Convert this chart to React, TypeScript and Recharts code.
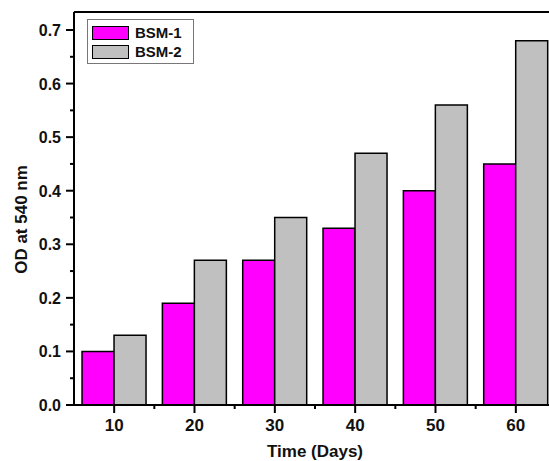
import { Bar, BarChart, Label, Legend, ReferenceLine, XAxis, YAxis } from "recharts";

// ── data ────────────────────────────────────────────────────────────────────

const days = ["10", "20", "30", "40", "50", "60"];
const bsm1 = [0.1, 0.19, 0.27, 0.33, 0.4, 0.45];
const bsm2 = [0.13, 0.27, 0.35, 0.47, 0.56, 0.68];
const yTicks = [0, 0.05, 0.1, 0.15, 0.2, 0.25, 0.3, 0.35, 0.4, 0.45, 0.5, 0.55, 0.6, 0.65, 0.7];
const Y_MAX = 0.7336;

const data = days.map((d, i) => ({ day: d, bsm1: bsm1[i], bsm2: bsm2[i] }));

const FONT = "'Liberation Sans', Arial, sans-serif";
const MAGENTA = "#ff00ff";
const GREY = "#c0c0c0";

// ── ticks ───────────────────────────────────────────────────────────────────

// tickSize 8 + tickMargin 4 → axis line sits 12px right of the tick x
function YTick({ x = 0, y = 0, payload }: any) {
  const ax = x + 12;
  const v = payload?.value ?? 0;
  const major = Math.abs(Math.round(v * 10) - v * 10) < 1e-6;
  return (
    <g>
      <line x1={ax - (major ? 8 : 4)} x2={ax} y1={y} y2={y} stroke="#000" strokeWidth={2} />
      {major && (
        <text x={ax - 13} y={y + 6} textAnchor="end" fontFamily={FONT} fontWeight="bold" fontSize={16} fill="#111">
          {v.toFixed(1)}
        </text>
      )}
    </g>
  );
}

// tickSize 8 + tickMargin 2 → axis line sits 10px above the tick y
function XTick({ x = 0, y = 0, payload }: any) {
  const ay = y - 10;
  const half = payload?.offset ?? 40;
  return (
    <g>
      <line x1={x} x2={x} y1={ay} y2={ay + 8} stroke="#000" strokeWidth={2} />
      <line x1={x + half} x2={x + half} y1={ay} y2={ay + 4} stroke="#000" strokeWidth={2} />
      <text x={x} y={ay + 26} textAnchor="middle" fontFamily={FONT} fontWeight="bold" fontSize={17} fill="#111">
        {payload?.value}
      </text>
    </g>
  );
}

// ── legend ──────────────────────────────────────────────────────────────────

function LegendBox() {
  const items = [
    { label: "BSM-1", color: MAGENTA },
    { label: "BSM-2", color: GREY },
  ];
  return (
    <div
      style={{
        width: 107,
        height: 45,
        border: "1px solid #777",
        background: "#fff",
        boxSizing: "border-box",
        paddingTop: 3,
        paddingLeft: 4,
      }}
    >
      {items.map((it) => (
        <div key={it.label} style={{ display: "flex", alignItems: "center", height: 19 }}>
          <div style={{ width: 35, height: 12, background: it.color, border: "1.5px solid #000" }} />
          <span style={{ marginLeft: 6, fontFamily: FONT, fontWeight: "bold", fontSize: 15, color: "#111" }}>
            {it.label}
          </span>
        </div>
      ))}
    </div>
  );
}

// ── App ─────────────────────────────────────────────────────────────────────

export default function App() {
  return (
    <div
      style={{
        position: "fixed",
        left: 0,
        top: 0,
        width: 549,
        height: 461,
        overflow: "hidden",
        background: "#fff",
      }}
    >
      <BarChart
        width={572}
        height={461}
        data={data}
        margin={{ top: 12, right: 16, bottom: 0, left: 0 }}
        barCategoryGap="10%"
        barGap={0}
      >
        <XAxis
          dataKey="day"
          height={56}
          axisLine={{ stroke: "#000", strokeWidth: 2 }}
          tickLine={false}
          tickSize={8}
          tickMargin={2}
          tick={<XTick />}
          interval={0}
        >
          <Label
            content={({ viewBox }: any) => (
              <text
                x={viewBox.x + viewBox.width / 2}
                y={viewBox.y + 52}
                textAnchor="middle"
                fontFamily={FONT}
                fontWeight="bold"
                fontSize={17}
                fill="#111"
              >
                Time (Days)
              </text>
            )}
          />
        </XAxis>
        <YAxis
          width={74}
          domain={[0, Y_MAX]}
          ticks={yTicks}
          interval={0}
          axisLine={{ stroke: "#000", strokeWidth: 2 }}
          tickLine={false}
          tickSize={8}
          tickMargin={4}
          tick={<YTick />}
        >
          <Label
            content={({ viewBox }: any) => {
              const cx = 21;
              const cy = viewBox.y + viewBox.height / 2 + 11;
              return (
                <text
                  x={cx}
                  y={cy}
                  transform={`rotate(-90 ${cx} ${cy})`}
                  textAnchor="middle"
                  dominantBaseline="central"
                  fontFamily={FONT}
                  fontWeight="bold"
                  fontSize={17}
                  fill="#111"
                >
                  OD at 540 nm
                </text>
              );
            }}
          />
        </YAxis>
        <ReferenceLine y={Y_MAX} stroke="#000" strokeWidth={2} />
        <Legend
          content={<LegendBox />}
          layout="horizontal"
          verticalAlign="middle"
          align="center"
          wrapperStyle={{ left: 87, top: 19, width: 107 }}
        />
        <Bar dataKey="bsm1" name="BSM-1" fill={MAGENTA} stroke="#000" strokeWidth={1.5} isAnimationActive={false} />
        <Bar dataKey="bsm2" name="BSM-2" fill={GREY} stroke="#000" strokeWidth={1.5} isAnimationActive={false} />
      </BarChart>
    </div>
  );
}
